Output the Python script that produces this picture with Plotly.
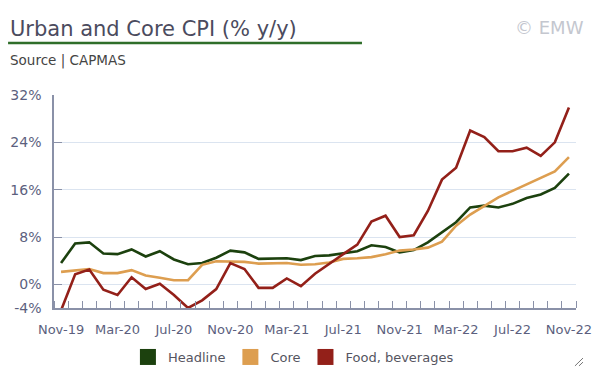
import plotly.graph_objects as go

months = ["Nov-19","Dec-19","Jan-20","Feb-20","Mar-20","Apr-20","May-20","Jun-20","Jul-20","Aug-20","Sep-20","Oct-20",
          "Nov-20","Dec-20","Jan-21","Feb-21","Mar-21","Apr-21","May-21","Jun-21","Jul-21","Aug-21","Sep-21","Oct-21",
          "Nov-21","Dec-21","Jan-22","Feb-22","Mar-22","Apr-22","May-22","Jun-22","Jul-22","Aug-22","Sep-22","Oct-22","Nov-22"]

headline = [3.6, 6.9, 7.1, 5.2, 5.1, 5.9, 4.7, 5.6, 4.2, 3.4, 3.6, 4.5, 5.7, 5.4, 4.3, 4.4, 4.4, 4.1, 4.8, 4.9,
            5.3, 5.6, 6.6, 6.3, 5.4, 5.8, 7.1, 8.8, 10.5, 13.0, 13.3, 13.0, 13.6, 14.6, 15.2, 16.3, 18.7]
core = [2.1, 2.4, 2.6, 1.9, 1.9, 2.4, 1.5, 1.1, 0.7, 0.7, 3.3, 3.9, 3.9, 3.8, 3.5, 3.5, 3.6, 3.3, 3.4, 3.7,
        4.3, 4.4, 4.6, 5.1, 5.7, 5.9, 6.2, 7.2, 9.9, 11.8, 13.3, 14.7, 15.8, 16.9, 18.1, 19.1, 21.5]
food = [-4.4, 1.7, 2.5, -0.9, -1.8, 1.2, -0.8, 0.1, -1.8, -4.0, -2.7, -0.8, 3.6, 2.6, -0.6, -0.6, 1.0, -0.3, 1.8, 3.5,
        5.1, 6.7, 10.6, 11.6, 8.0, 8.3, 12.4, 17.7, 19.7, 26.0, 24.9, 22.5, 22.5, 23.1, 21.7, 24.0, 29.9]

series_names = ["Headline", "Core", "Food, beverages"]
colors = ["#1c410e", "#dd9e50", "#932019"]
y_ticks = [-4, 0, 8, 16, 24, 32]
x_label_step = 4

x_idx = list(range(len(months)))
label_idx = x_idx[::x_label_step]

FONT = "DejaVu Sans"
fig = go.Figure()
for name, vals, col in zip(series_names, [headline, core, food], colors):
    fig.add_trace(go.Scatter(x=x_idx, y=vals, mode="lines", name=name,
                             line=dict(color=col, width=2.6), showlegend=False,
                             hovertemplate="%{y:.1f}%<extra>" + name + "</extra>"))
for name, col in zip(series_names, colors):
    fig.add_trace(go.Scatter(x=[None], y=[None], mode="markers", name=name,
                             marker=dict(symbol="square", size=18, color=col,
                                         line=dict(width=0)), showlegend=True))

axis_col = "#8a91a8"
fig.update_xaxes(range=[-0.5, len(months) - 0.5], tickvals=label_idx,
                 ticktext=[months[i] for i in label_idx], ticks="",
                 showgrid=False, showline=True, linecolor=axis_col, linewidth=1.5,
                 zeroline=False, ticklabelstandoff=9,
                 tickfont=dict(family=FONT, size=13, color="#5c5f7e"),
                 minor=dict(ticks="inside", tick0=-0.5, dtick=1, ticklen=7,
                            tickcolor=axis_col, tickwidth=1, showgrid=False))
fig.update_yaxes(range=[-4, 32], tickvals=y_ticks, ticktext=[f"{v}%" for v in y_ticks],
                 ticks="inside", ticklen=8, tickcolor=axis_col, ticklabelstandoff=8,
                 showgrid=True, gridcolor="#dbe4f0", gridwidth=1,
                 showline=True, linecolor=axis_col, linewidth=1.5, zeroline=False,
                 tickfont=dict(family=FONT, size=14, color="#5c5f7e"))

fig.add_annotation(text="Urban and Core CPI (% y/y)", xref="paper", yref="paper",
                   x=-0.088, y=1.31, xanchor="left", yanchor="middle", showarrow=False,
                   font=dict(family=FONT, size=21, color="#4b4b5e"))
fig.add_annotation(text="© EMW", xref="paper", yref="paper",
                   x=1.019, y=1.319, xanchor="right", yanchor="middle", showarrow=False,
                   font=dict(family=FONT, size=18, color="#c4c7cf"))
fig.add_annotation(text="Source | CAPMAS", xref="paper", yref="paper",
                   x=-0.088, y=1.164, xanchor="left", yanchor="middle", showarrow=False,
                   font=dict(family=FONT, size=13.5, color="#444444"))
fig.add_shape(type="line", xref="paper", yref="paper", x0=-0.088, x1=0.590, y0=1.244, y1=1.244,
              line=dict(color="#2f6e2a", width=2.5))
# resize-handle glyph in the bottom-right corner
fig.add_shape(type="line", xref="paper", yref="paper", x0=0.998, x1=1.0134, y0=-0.272, y1=-0.235,
              line=dict(color="#777777", width=1))
fig.add_shape(type="line", xref="paper", yref="paper", x0=1.0057, x1=1.0134, y0=-0.272, y1=-0.254,
              line=dict(color="#777777", width=1))

fig.update_layout(
    width=605, height=385,
    margin=dict(l=54, r=29, t=95, b=77, autoexpand=False),
    plot_bgcolor="white", paper_bgcolor="white",
    legend=dict(orientation="h", xref="container", yref="container",
                x=0.485, xanchor="center", y=0.0727, yanchor="middle",
                font=dict(family=FONT, size=13, color="#55555f"),
                itemwidth=30, tracegroupgap=0),
    hovermode="x unified",
)

fig.write_html("out.html", config={"displayModeBar": False},
               post_script="document.body.style.margin='0';")
